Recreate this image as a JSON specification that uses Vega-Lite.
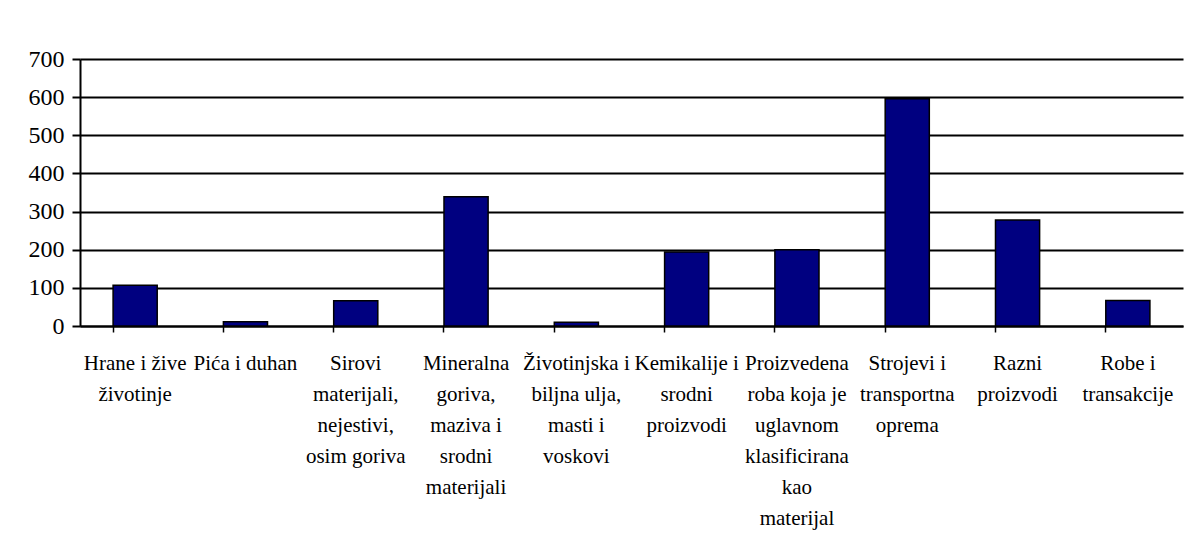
{
  "$schema": "https://vega.github.io/schema/vega-lite/v6.json",
  "autosize": {"type": "none"},
  "padding": {"left": 80, "top": 59, "right": 3, "bottom": 233},
  "width": 1103,
  "height": 267,
  "background": "white",
  "data": {
    "values": [
      {"category": "Hrane i žive\nživotinje", "value": 107},
      {"category": "Pića i duhan", "value": 11},
      {"category": "Sirovi\nmaterijali,\nnejestivi,\nosim goriva", "value": 66},
      {"category": "Mineralna\ngoriva,\nmaziva i\nsrodni\nmaterijali", "value": 339},
      {"category": "Životinjska i\nbiljna ulja,\nmasti i\nvoskovi", "value": 10},
      {"category": "Kemikalije i\nsrodni\nproizvodi", "value": 194},
      {"category": "Proizvedena\nroba koja je\nuglavnom\nklasificirana\nkao\nmaterijal", "value": 200},
      {"category": "Strojevi i\ntransportna\noprema", "value": 596},
      {"category": "Razni\nproizvodi", "value": 278},
      {"category": "Robe i\ntransakcije", "value": 67}
    ]
  },
  "mark": {"type": "bar", "color": "#000080", "stroke": "#000000", "strokeWidth": 1.5},
  "encoding": {
    "x": {
      "field": "category",
      "type": "nominal",
      "sort": null,
      "title": null,
      "scale": {"paddingInner": 0.6, "paddingOuter": 0.3},
      "axis": {
        "labelAngle": 0,
        "labelExpr": "split(datum.label, '\\n')",
        "labelFont": "Liberation Serif",
        "labelFontSize": 21,
        "labelLineHeight": 31,
        "labelColor": "#000000",
        "labelLimit": 0,
        "labelOverlap": false,
        "labelPadding": 20,
        "labelBaseline": "top",
        "bandPosition": 0,
        "tickColor": "#000000",
        "tickSize": 6,
        "tickWidth": 1.5,
        "domainColor": "#000000",
        "domainWidth": 2,
        "grid": false
      }
    },
    "y": {
      "field": "value",
      "type": "quantitative",
      "title": null,
      "scale": {"domain": [0, 700], "nice": false},
      "axis": {
        "values": [0, 100, 200, 300, 400, 500, 600, 700],
        "labelFont": "Liberation Serif",
        "labelFontSize": 24,
        "labelColor": "#000000",
        "labelPadding": 8,
        "tickColor": "#000000",
        "tickSize": 8,
        "tickWidth": 2,
        "domainColor": "#000000",
        "domainWidth": 2,
        "grid": true,
        "gridColor": "#000000",
        "gridWidth": 2,
        "gridOpacity": 1
      }
    }
  },
  "config": {"view": {"stroke": null}}
}
